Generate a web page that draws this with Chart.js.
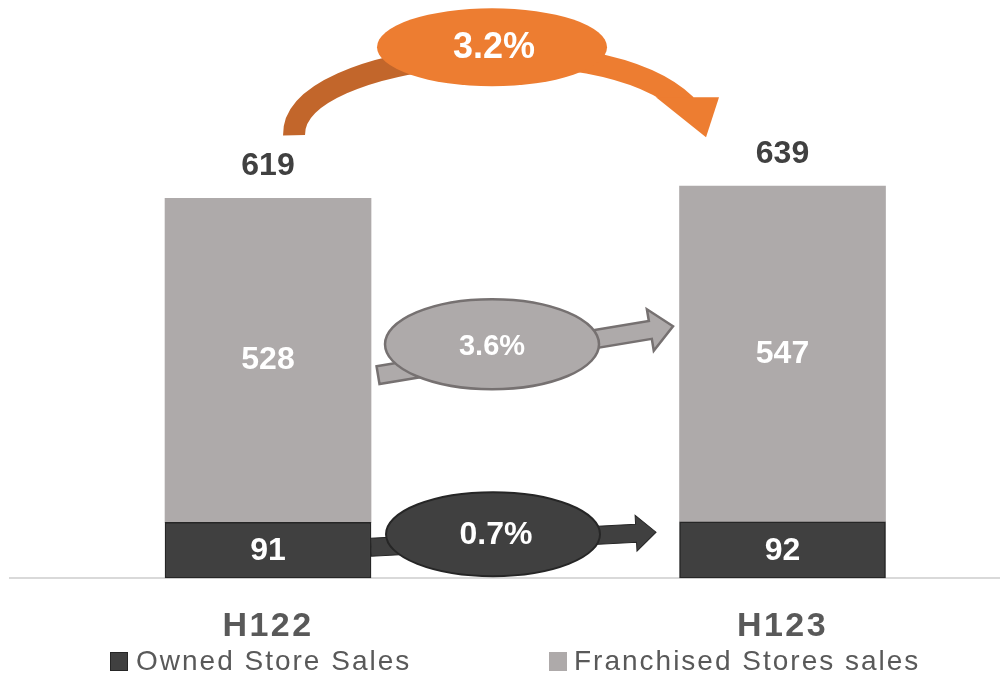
<!DOCTYPE html>
<html><head><meta charset="utf-8">
<script src="https://cdn.jsdelivr.net/npm/chart.js@4.4.1/dist/chart.umd.min.js"></script>
<style>html,body{margin:0;padding:0;background:#fff;overflow:hidden}#wrap{position:relative;width:1000px;height:676px}</style>
</head><body><div id="wrap"><canvas id="c"></canvas></div>
<script>
const categories = ['H122', 'H123'];
const seriesNames = ['Owned Store Sales', 'Franchised Stores sales'];
const ownedSales = [91, 92];
const franchisedSales = [528, 547];
const totalSales = [619, 639];
const growthTotal = '3.2%';
const growthFranchised = '3.6%';
const growthOwned = '0.7%';

const FAMILY = "'Liberation Sans', Arial, sans-serif";
const COL_OWNED = '#404040';
const COL_FR = '#AEAAAA';
const COL_OR = '#ED7D31';
const COL_OR_DARK = '#C2662B';

function blockArrow(ctx, sx, sy, ex, ey, hw, hl, hh, fill, stroke, lw) {
  const a = Math.atan2(ey - sy, ex - sx), len = Math.hypot(ex - sx, ey - sy);
  ctx.save();
  ctx.translate(sx, sy); ctx.rotate(a);
  ctx.beginPath();
  ctx.moveTo(0, -hw); ctx.lineTo(len - hl, -hw); ctx.lineTo(len - hl, -hh);
  ctx.lineTo(len, 0); ctx.lineTo(len - hl, hh); ctx.lineTo(len - hl, hw); ctx.lineTo(0, hw);
  ctx.closePath();
  ctx.fillStyle = fill; ctx.fill();
  if (lw) { ctx.lineJoin = 'miter'; ctx.strokeStyle = stroke; ctx.lineWidth = lw; ctx.stroke(); }
  ctx.restore();
}
function ellipse(ctx, cx, cy, rx, ry, fill, stroke, lw) {
  ctx.beginPath(); ctx.ellipse(cx, cy, rx, ry, 0, 0, Math.PI * 2);
  ctx.fillStyle = fill; ctx.fill();
  if (lw) { ctx.strokeStyle = stroke; ctx.lineWidth = lw; ctx.stroke(); }
}
function label(ctx, text, x, y, font, color) {
  ctx.font = font; ctx.fillStyle = color; ctx.textAlign = 'center'; ctx.textBaseline = 'middle';
  ctx.fillText(text, x, y);
}

const decor = {
  id: 'decor',
  beforeDraw(chart) { chart.ctx.letterSpacing = '2.5px'; },
  beforeDatasetsDraw(chart) { chart.ctx.letterSpacing = '0px'; },
  afterDatasetsDraw(chart) {
    const ctx = chart.ctx;
    const m0 = chart.getDatasetMeta(0), m1 = chart.getDatasetMeta(1);
    const base = chart.scales.y.getPixelForValue(0);
    ctx.save();
    ctx.letterSpacing = '0px';
    ctx.translate(m0.data[0].x - 268, base - 577);
    // franchised growth arrow
    blockArrow(ctx, 378, 374, 673, 325, 9, 23, 21, COL_FR, '#767171', 2.5);
    ellipse(ctx, 492, 343, 107, 45, COL_FR, '#767171', 2.5);
    label(ctx, growthFranchised, 492, 346, 'bold 29px ' + FAMILY, '#FFFFFF');
    // owned growth arrow
    blockArrow(ctx, 371, 546, 656, 531, 9, 20, 18, COL_OWNED, '#262626', 1);
    ellipse(ctx, 493, 533, 107, 42, COL_OWNED, '#262626', 2);
    label(ctx, growthOwned, 496, 534, 'bold 32px ' + FAMILY, '#FFFFFF');
    // total growth curved arrow
    const g = ctx.createLinearGradient(280, 0, 720, 0);
    g.addColorStop(0, COL_OR_DARK); g.addColorStop(0.45, COL_OR_DARK);
    g.addColorStop(0.47, COL_OR); g.addColorStop(1, COL_OR);
    ctx.beginPath();
    ctx.moveTo(294, 134);
    ctx.bezierCurveTo(292, 50, 600, 20, 686, 104);
    ctx.lineCap = 'butt'; ctx.lineWidth = 22; ctx.strokeStyle = g; ctx.stroke();
    ctx.beginPath();
    ctx.moveTo(656, 96); ctx.lineTo(719, 96); ctx.lineTo(706, 136); ctx.closePath();
    ctx.fillStyle = COL_OR; ctx.fill();
    ellipse(ctx, 492, 46, 115, 39, COL_OR, null, 0);
    label(ctx, growthTotal, 494, 47, 'bold 36px ' + FAMILY, '#FFFFFF');
    ctx.restore();

    ctx.save();
    ctx.letterSpacing = '0px';
    for (let i = 0; i < categories.length; i++) {
      const o = m0.data[i], f = m1.data[i];
      label(ctx, String(ownedSales[i]), o.x, (o.y + o.base) / 2 + 1, 'bold 32px ' + FAMILY, '#FFFFFF');
      label(ctx, String(franchisedSales[i]), f.x, (f.y + f.base) / 2, 'bold 32px ' + FAMILY, '#FFFFFF');
      label(ctx, String(totalSales[i]), f.x, f.y - 32, 'bold 32px ' + FAMILY, '#404040');
    }
    ctx.restore();
  },
  afterDraw(chart) {
    const ctx = chart.ctx;
    ctx.save();
    ctx.letterSpacing = '2px';
    const pos = [{bx: 110, tx: 136}, {bx: 549, tx: 574}];
    chart.data.datasets.forEach((ds, k) => {
      const p = pos[k];
      ctx.fillStyle = ds.backgroundColor;
      ctx.fillRect(p.bx, 652, 18, 19);
      if (k === 0) { ctx.strokeStyle = '#262626'; ctx.lineWidth = 1; ctx.strokeRect(p.bx + 0.5, 652.5, 17, 18); }
      ctx.font = '28px ' + FAMILY; ctx.fillStyle = '#595959';
      ctx.textAlign = 'left'; ctx.textBaseline = 'middle';
      ctx.fillText(ds.label, p.tx, 662);
    });
    ctx.restore();
  }
};

new Chart(document.getElementById('c'), {
  type: 'bar',
  data: {
    datasets: [
      { label: seriesNames[0], data: ownedSales.map((v, i) => ({x: i, y: v})),
        backgroundColor: COL_OWNED, borderColor: '#262626', borderWidth: 1.5, borderSkipped: false },
      { label: seriesNames[1], data: franchisedSales.map((v, i) => ({x: i, y: v})),
        backgroundColor: COL_FR, borderWidth: 0 }
    ]
  },
  options: {
    responsive: true, maintainAspectRatio: false, animation: false,
    layout: { padding: { left: 10, right: 0, top: 10, bottom: 1 } },
    plugins: { legend: { display: false }, tooltip: { enabled: false } },
    datasets: { bar: { barThickness: 206 } },
    scales: {
      x: {
        type: 'linear', stacked: true, offset: false, min: -0.5015, max: 1.4227,
        grid: { display: false, drawTicks: false, offset: false },
        border: { display: true, color: '#D9D9D9', width: 2 },
        afterBuildTicks: (s) => { s.ticks = categories.map((c, i) => ({ value: i })); },
        ticks: { padding: 28, color: '#595959', autoSkip: false, maxRotation: 0,
          font: { family: FAMILY, size: 34, weight: 'bold' },
          callback: (v, i) => categories[i] }
      },
      y: { display: false, stacked: true, min: 0, max: 926 }
    }
  },
  plugins: [decor]
});
</script></body></html>
